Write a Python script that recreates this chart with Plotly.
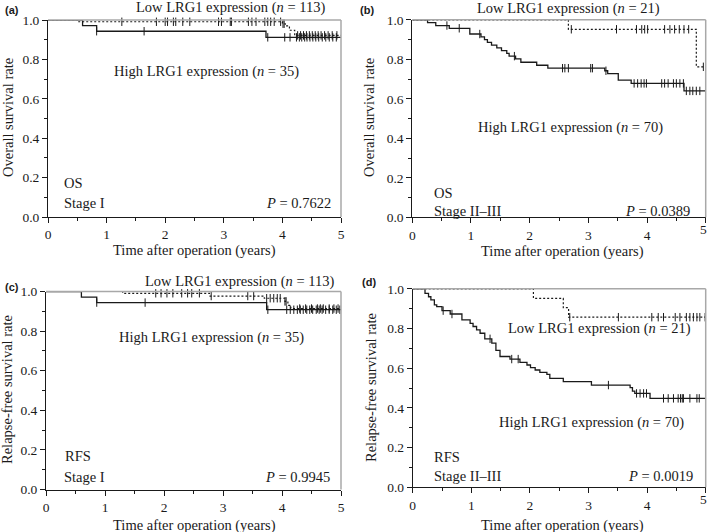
import plotly.graph_objects as go

W, H = 709, 532

# ---------------- data ----------------
# (a) OS, Stage I
a_high_t = [0.59, 0.83, 3.72]
a_high_s = [0.971, 0.943, 0.912]
a_high_cens = [0.83, 1.64, 3.75, 4.04, 4.13, 4.24, 4.29, 4.33, 4.38, 4.42, 4.47, 4.52, 4.57, 4.62, 4.68, 4.74, 4.80, 4.86, 4.92]
a_low_t = [0.50, 4.00, 4.05, 4.12, 4.21]
a_low_s = [0.991, 0.981, 0.970, 0.948, 0.922]
a_low_cens = [1.26, 1.85, 2.00, 2.04, 2.14, 2.18, 2.30, 2.42, 2.91, 2.96, 3.11, 3.13, 3.42, 3.48, 3.55, 3.70, 3.75, 3.80, 3.86,
              3.97, 4.01, 4.03, 4.26, 4.31, 4.36, 4.41, 4.46, 4.51, 4.56, 4.61, 4.66, 4.72, 4.78, 4.85, 4.93]

# (b) OS, Stage II-III
b_high_t = [0.26, 0.40, 0.63, 0.98, 1.17, 1.23, 1.28, 1.35, 1.44, 1.52, 1.61, 1.65, 1.76, 1.85, 2.12, 2.31, 3.28, 3.33, 3.51, 3.73, 4.63]
b_high_s = [0.986, 0.971, 0.957, 0.928, 0.914, 0.900, 0.886, 0.872, 0.858, 0.844, 0.830, 0.816, 0.802, 0.785, 0.770, 0.755, 0.742, 0.727, 0.695, 0.678, 0.640]
b_high_cens = [0.59, 0.80, 1.15, 1.74, 2.56, 2.60, 2.66, 3.04, 3.07, 3.30, 3.78, 3.84, 3.90, 3.95, 3.99,
               4.25, 4.30, 4.36, 4.45, 4.50, 4.56, 4.62, 4.67, 4.73, 4.78, 4.84, 4.90]
b_low_t = [2.66, 4.84]
b_low_s = [0.952, 0.762]
b_low_cens = [2.71, 3.48, 3.82, 3.91, 3.96, 4.01, 4.30, 4.39, 4.47, 4.55, 4.63, 4.71, 4.96]

# (c) RFS, Stage I
c_high_t = [0.60, 0.86, 3.74]
c_high_s = [0.972, 0.944, 0.908]
c_high_cens = [0.86, 1.68, 3.76, 4.08, 4.14, 4.20, 4.26, 4.31, 4.36, 4.42, 4.47, 4.52, 4.58, 4.63, 4.68, 4.74, 4.80, 4.86, 4.92, 4.98]
c_low_t = [1.30, 2.77, 3.70, 4.05, 4.10, 4.15]
c_low_s = [0.991, 0.977, 0.966, 0.950, 0.930, 0.914]
c_low_cens = [1.86, 1.95, 2.05, 2.15, 2.30, 2.40, 2.47, 2.60, 2.80, 3.42, 3.52, 3.74, 3.80, 3.86, 3.92, 3.97, 4.05, 4.07,
              4.30, 4.40, 4.50, 4.60, 4.65, 4.70, 4.80, 4.88, 4.95]

# (d) RFS, Stage II-III
d_high_t = [0.21, 0.27, 0.31, 0.37, 0.41, 0.50, 0.64, 0.84, 0.98, 1.03, 1.09, 1.15, 1.23, 1.35, 1.42, 1.49,
            1.66, 1.83, 1.95, 2.01, 2.09, 2.17, 2.29, 2.34, 2.57, 3.05, 3.71, 3.75, 3.79, 4.05]
d_high_s = [0.977, 0.960, 0.944, 0.919, 0.910, 0.890, 0.873, 0.843, 0.826, 0.810, 0.793, 0.776, 0.748, 0.726, 0.690, 0.659,
            0.646, 0.629, 0.616, 0.603, 0.591, 0.579, 0.569, 0.549, 0.532, 0.515, 0.502, 0.485, 0.473, 0.448]
d_high_cens = [0.52, 0.67, 1.32, 1.69, 1.80, 3.34, 3.82, 3.88, 3.94, 3.99, 4.28, 4.36, 4.45, 4.53, 4.57, 4.60, 4.62, 4.73, 4.85, 4.89]
d_low_t = [2.06, 2.57, 2.66]
d_low_s = [0.952, 0.905, 0.857]
d_low_cens = [2.68, 3.51, 4.08, 4.19, 4.28, 4.48, 4.56, 4.67, 4.73, 4.79, 4.85, 4.90, 4.99]

x_ticks = [0, 1, 2, 3, 4, 5]
x_ticktext = ["0", "1", "2", "3", "4", "5"]
y_ticks = [0.0, 0.2, 0.4, 0.6, 0.8, 1.0]
y_ticktext = ["0.0", "0.2", "0.4", "0.6", "0.8", "1.0"]

# ---------------- layout helpers ----------------
SERIF = "Liberation Serif"
SANS = "Liberation Sans"
INK = "#1a1a1a"
GRAY = "#a8a8a8"
FS = 14.5
TFS = 13.5

# pixel boxes of each plot area: (left, right, top, bottom)
boxes = {
    "a": (48, 341, 20, 217),
    "b": (412.3, 705.7, 19.8, 217.3),
    "c": (46, 341, 291.5, 489.5),
    "d": (412.7, 705.7, 288.8, 487.3),
}

def px(x):
    return x / W

def py(y):
    return 1 - y / H

def step_xy(t, s):
    xs = [0] + list(t) + [5]
    ys = [1.0] + list(s) + [s[-1]]
    return xs, ys

def surv_at(t, s, x):
    v = 1.0
    for ti, si in zip(t, s):
        if x >= ti:
            v = si
    return v

fig = go.Figure()
layout = dict(
    width=W, height=H, margin=dict(l=0, r=0, t=0, b=0, autoexpand=False),
    paper_bgcolor="white", plot_bgcolor="white", showlegend=False,
)
shapes = []

panel_data = {
    "a": (a_high_t, a_high_s, a_high_cens, a_low_t, a_low_s, a_low_cens),
    "b": (b_high_t, b_high_s, b_high_cens, b_low_t, b_low_s, b_low_cens),
    "c": (c_high_t, c_high_s, c_high_cens, c_low_t, c_low_s, c_low_cens),
    "d": (d_high_t, d_high_s, d_high_cens, d_low_t, d_low_s, d_low_cens),
}

for i, key in enumerate(["a", "b", "c", "d"]):
    n = "" if i == 0 else str(i + 1)
    xa, ya = "x" + n, "y" + n
    l, r, t, b = boxes[key]
    right_panel = key in ("b", "d")
    layout["xaxis" + n] = dict(
        domain=[px(l), px(r)], anchor=ya, range=[0, 5],
        tickmode="array", tickvals=x_ticks,
        ticktext=[tt if not (right_panel and tt == "5") else "" for tt in x_ticktext],
        ticks="outside", ticklen=5, tickwidth=1, tickcolor=INK,
        minor=dict(tickmode="linear", tick0=0, dtick=0.5, ticks="outside", ticklen=3, tickwidth=1, tickcolor=INK, showgrid=False),
        showline=True, linecolor=INK, linewidth=1, showgrid=False, zeroline=False,
        tickfont=dict(family=SERIF, size=TFS, color=INK), fixedrange=True, automargin=False,
    )
    layout["yaxis" + n] = dict(
        domain=[py(b), py(t)], anchor=xa, range=[0, 1],
        tickmode="array", tickvals=y_ticks, ticktext=y_ticktext, ticks="outside", ticklen=5, tickwidth=1, tickcolor=INK,
        minor=dict(tickmode="linear", tick0=0, dtick=0.1, ticks="outside", ticklen=3, tickwidth=1, tickcolor=INK, showgrid=False),
        showline=True, linecolor=INK, linewidth=1, showgrid=False, zeroline=False,
        tickfont=dict(family=SERIF, size=TFS, color=INK), fixedrange=True, automargin=False,
    )
    # gray frame (top + right)
    shapes.append(dict(type="line", xref=xa + " domain", yref=ya + " domain", x0=0, x1=1, y0=1, y1=1,
                       line=dict(color=GRAY, width=1.5)))
    shapes.append(dict(type="line", xref=xa + " domain", yref=ya + " domain", x0=1, x1=1, y0=0, y1=1,
                       line=dict(color=GRAY, width=1.5)))

    ht, hs, hc, lt, ls, lc = panel_data[key]
    # low expression (dotted)
    xs, ys = step_xy(lt, ls)
    fig.add_trace(go.Scatter(x=xs, y=ys, mode="lines", line=dict(color=INK, width=1.2, dash="2px,2px", shape="hv"),
                             xaxis=xa, yaxis=ya, cliponaxis=False, hoverinfo="skip"))
    fig.add_trace(go.Scatter(x=lc, y=[surv_at(lt, ls, c) for c in lc], mode="markers",
                             marker=dict(symbol="line-ns", size=6, color=INK, line=dict(color=INK, width=1)),
                             xaxis=xa, yaxis=ya, cliponaxis=False, hoverinfo="skip"))
    # high expression (solid)
    xs, ys = step_xy(ht, hs)
    fig.add_trace(go.Scatter(x=xs, y=ys, mode="lines", line=dict(color=INK, width=1.3, shape="hv"),
                             xaxis=xa, yaxis=ya, cliponaxis=False, hoverinfo="skip"))
    fig.add_trace(go.Scatter(x=hc, y=[surv_at(ht, hs, c) for c in hc], mode="markers",
                             marker=dict(symbol="line-ns", size=6, color=INK, line=dict(color=INK, width=1)),
                             xaxis=xa, yaxis=ya, cliponaxis=False, hoverinfo="skip"))

layout["shapes"] = shapes

# ---------------- annotations (pixel positions) ----------------
ann = []

def text(x, y, s, size=FS, xanchor="center", yanchor="middle", family=SERIF, angle=0):
    ann.append(dict(x=px(x), y=py(y), xref="paper", yref="paper", text=s, showarrow=False,
                    xanchor=xanchor, yanchor=yanchor, textangle=angle,
                    font=dict(family=family, size=size, color=INK)))

# last x tick label of right-hand panels (kept inside the page)
text(703, 229, x_ticktext[-1], size=TFS)
text(703, 499, x_ticktext[-1], size=TFS)

# panel letters
text(3, 10, "<b>(a)</b>", size=11, xanchor="left", family=SANS)
text(358, 10, "<b>(b)</b>", size=11, xanchor="left", family=SANS)
text(3, 287, "<b>(c)</b>", size=11, xanchor="left", family=SANS)
text(360, 282, "<b>(d)</b>", size=11, xanchor="left", family=SANS)

# group labels
text(230, 7, "Low LRG1 expression (<i>n</i> = 113)")
text(206, 71, "High LRG1 expression (<i>n</i> = 35)")
text(568, 8, "Low LRG1 expression (<i>n</i> = 21)")
text(570, 127, "High LRG1 expression (<i>n</i> = 70)")
text(240, 281, "Low LRG1 expression (<i>n</i> = 113)")
text(212, 337, "High LRG1 expression (<i>n</i> = 35)")
text(599, 328, "Low LRG1 expression (<i>n</i> = 21)")
text(591, 422, "High LRG1 expression (<i>n</i> = 70)")

# endpoint / stage / P
text(62, 183, "OS", xanchor="left")
text(62, 203, "Stage I", xanchor="left")
text(333, 203, "<i>P</i> = 0.7622", xanchor="right")
text(432, 193, "OS", xanchor="left")
text(432, 211, "Stage II–III", xanchor="left")
text(692, 211, "<i>P</i> = 0.0389", xanchor="right")
text(63, 456, "RFS", xanchor="left")
text(62, 477, "Stage I", xanchor="left")
text(332, 477, "<i>P</i> = 0.9945", xanchor="right")
text(432, 457, "RFS", xanchor="left")
text(432, 476, "Stage II–III", xanchor="left")
text(695, 476, "<i>P</i> = 0.0019", xanchor="right")

# axis titles
text(194, 251, "Time after operation (years)")
text(562, 252, "Time after operation (years)")
text(194, 525, "Time after operation (years)")
text(562, 525, "Time after operation (years)")
text(8, 118, "Overall survival rate", angle=-90)
text(369, 118, "Overall survival rate", angle=-90)
text(7, 390, "Relapse-free survival rate", angle=-90)
text(371, 388, "Relapse-free survival rate", angle=-90)

layout["annotations"] = ann
fig.update_layout(**layout)
fig.write_html(
    "out.html",
    config={"displayModeBar": False},
    post_script="document.body.style.margin='0';document.body.style.overflow='hidden';",
)
